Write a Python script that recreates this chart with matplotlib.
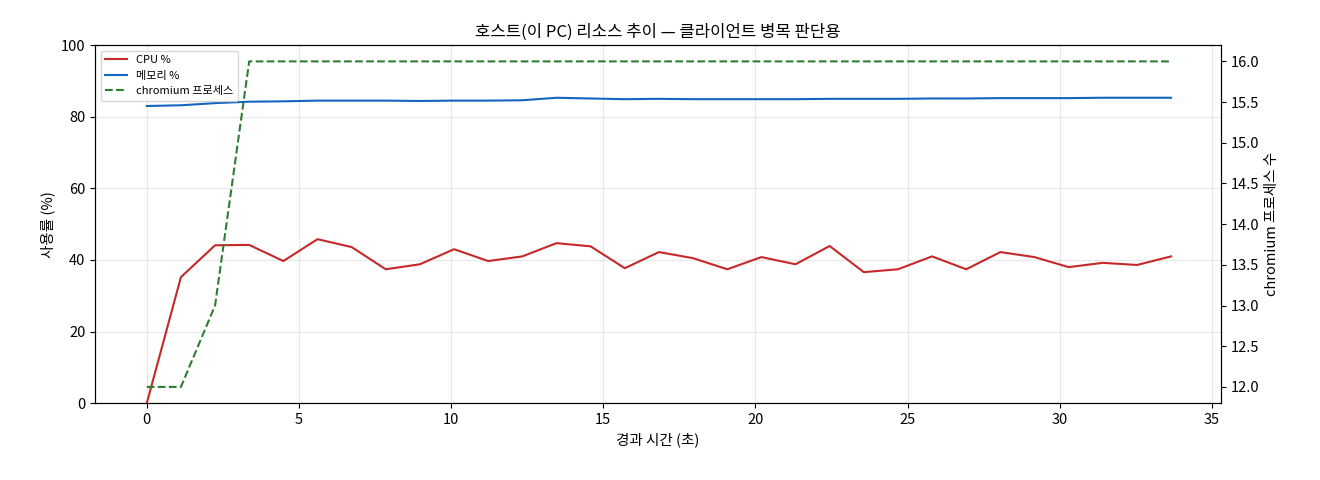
import matplotlib
matplotlib.use("Agg")
import matplotlib.pyplot as plt
import numpy as np

plt.rcParams['font.family'] = ['Noto Sans CJK KR', 'DejaVu Sans']
plt.rcParams['font.size'] = 10.5

t = [round(i * 1.122, 3) for i in range(31)]
cpu = [0, 35.2, 44.1, 44.2, 39.7, 45.8, 43.6, 37.4, 38.8, 43.0, 39.7, 41.0, 44.7, 43.8,
       37.7, 42.2, 40.5, 37.4, 40.8, 38.8, 43.9, 36.6, 37.4, 41.0, 37.4, 42.2, 40.8, 38.0,
       39.2, 38.6, 41.0]
mem = [83.0, 83.2, 83.8, 84.2, 84.3, 84.5, 84.5, 84.5, 84.4, 84.5, 84.5, 84.6, 85.3, 85.1,
       84.9, 85.0, 84.9, 84.9, 84.9, 84.9, 85.0, 85.0, 85.0, 85.1, 85.1, 85.2, 85.2, 85.2,
       85.3, 85.3, 85.3]
chrom = [12, 12, 13, 16] + [16] * 27

fig, ax = plt.subplots(figsize=(13.2, 4.8), dpi=100)
l1, = ax.plot(t, cpu, color='#c62828', lw=1.5, label='CPU %')
l2, = ax.plot(t, mem, color='#1565c0', lw=1.5, label='메모리 %')
ax.set_ylim(0, 100)
ax.set_xlim(-1.7, 35.3)
ax.set_xlabel('경과 시간 (초)')
ax.set_ylabel('사용률 (%)')
ax.grid(alpha=0.3)
ax2 = ax.twinx()
l3, = ax2.plot(t, chrom, color='#2e7d32', lw=1.5, ls='--', label='chromium 프로세스')
ax2.set_ylim(11.8, 16.2)
ax2.set_ylabel('chromium 프로세스 수')
ax.set_title('호스트(이 PC) 리소스 추이 — 클라이언트 병목 판단용', fontsize=12)
ax.legend(handles=[l1, l2, l3], loc='upper left', fontsize=8)
fig.subplots_adjust(left=0.072, right=0.925, top=0.906, bottom=0.16)
fig.savefig('out.png')
